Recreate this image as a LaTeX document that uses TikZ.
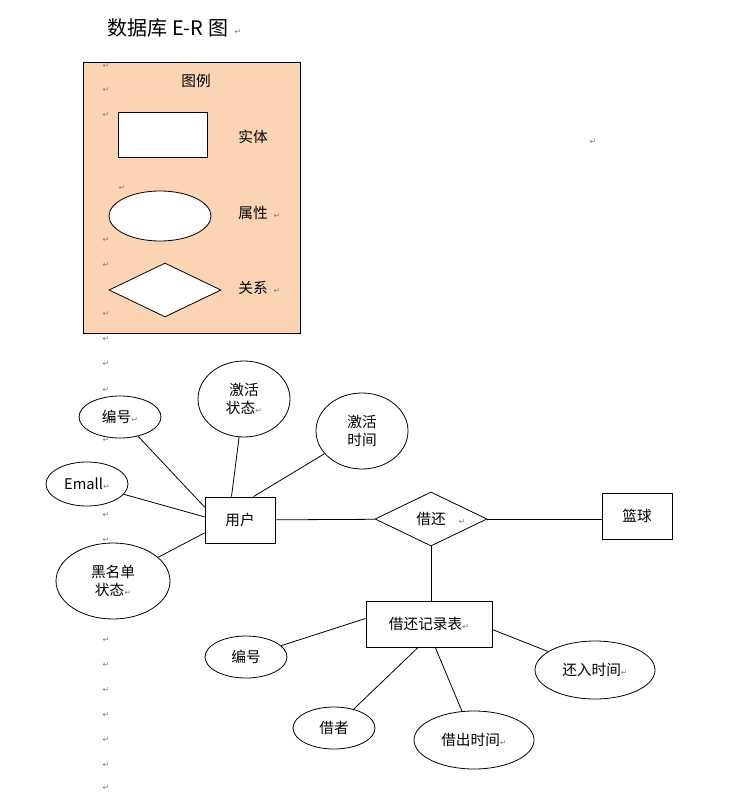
\documentclass[tikz,border=0pt]{standalone}
\usepackage{fontspec}
\setmainfont{Noto Sans CJK SC}
\newfontfamily\markfont{DejaVu Sans}
\usetikzlibrary{shapes.geometric}
\definecolor{peach}{HTML}{FBD4B4}
\definecolor{markgray}{HTML}{808080}
\begin{document}
\begin{tikzpicture}[x=0.75pt,y=-0.75pt,
  txt/.style={font=\fontsize{11}{14}\selectfont,align=center},
  ent/.style={draw,line width=0.6pt,fill=white,minimum width=70*0.75pt,minimum height=46*0.75pt,inner sep=0pt,txt},
  attr/.style={draw,ellipse,line width=0.6pt,fill=white,inner sep=0pt,txt},
  rel/.style={draw,diamond,line width=0.6pt,fill=white,inner sep=0pt,txt},
  mk/.style={font=\markfont\fontsize{6}{7}\selectfont,text=markgray,inner sep=0pt},
  ln/.style={line width=0.6pt}]
\useasboundingbox (0,0) rectangle (732,805);
% title
\node[font=\fontsize{15}{18}\selectfont,anchor=west] (title) at (103,28) {数据库 E-R 图};
\node[mk] (m0) at (238,32) {↵};
% legend
\node[draw,line width=0.6pt,fill=peach,minimum width=217*0.75pt,minimum height=271*0.75pt,inner sep=0pt] (legend) at (191.5,197.5) {};
\node[txt] (lgt) at (196,81) {图例};
\node[draw,line width=0.6pt,fill=white,minimum width=89*0.75pt,minimum height=45*0.75pt] (lrect) at (162.5,134.5) {};
\node[txt] (lr) at (253,137) {实体};
\node[draw,ellipse,line width=0.6pt,fill=white,minimum width=102*0.75pt,minimum height=50*0.75pt] (lell) at (160,216) {};
\node[txt] (le) at (253,213) {属性};
\node[mk] at (277,216) {↵};
\node[draw,diamond,aspect=2.07,line width=0.6pt,fill=white,minimum width=112*0.75pt,minimum height=54*0.75pt,inner sep=0pt] (ldia) at (165,290) {};
\node[txt] (ld) at (253,288) {关系};
\node[mk] at (277,291) {↵};
\node[mk] at (122,188) {↵};
\node[mk] at (593,142) {↵};
% left column of marks
\foreach \y in {66,90,115,240,265,314,339,364,390,440,515,540,640,665,690,715,740,765,788}
  \node[mk] at (106,\y) {↵};
% main entities
\node[ent] (user) at (240,520) {用户};
\node[rel,minimum width=112*0.75pt,minimum height=54*0.75pt,aspect=2.07] (jh) at (431,519) {借还};
\node[mk] at (462,522) {↵};
\node[ent] (ball) at (637,516) {篮球};
\node[ent,minimum width=126*0.75pt] (rec) at (429,624) {借还记录表\textcolor{markgray}{\markfont\fontsize{6}{7}\selectfont ↵}};
% attributes
\node[attr,minimum width=82*0.75pt,minimum height=42*0.75pt] (bh) at (120,417) {编号\textcolor{markgray}{\markfont\fontsize{6}{7}\selectfont ↵}};
\node[attr,minimum width=92*0.75pt,minimum height=76*0.75pt] (jhzt) at (244,399) {激活\\状态\textcolor{markgray}{\markfont\fontsize{6}{7}\selectfont ↵}};
\node[attr,minimum width=92*0.75pt,minimum height=76*0.75pt] (jhsj) at (362,431) {激活\\时间};
\node[attr,minimum width=82*0.75pt,minimum height=44*0.75pt] (em) at (87,484) {Emall\textcolor{markgray}{\markfont\fontsize{6}{7}\selectfont ↵}};
\node[attr,minimum width=114*0.75pt,minimum height=76*0.75pt] (hmd) at (113,581) {黑名单\\状态\textcolor{markgray}{\markfont\fontsize{6}{7}\selectfont ↵}};
\node[attr,minimum width=82*0.75pt,minimum height=42*0.75pt] (bh2) at (246,657) {编号};
\node[attr,minimum width=82*0.75pt,minimum height=42*0.75pt] (jz) at (334,728) {借者};
\node[attr,minimum width=120*0.75pt,minimum height=58*0.75pt] (jcsj) at (474,740) {借出时间\textcolor{markgray}{\markfont\fontsize{6}{7}\selectfont ↵}};
\node[attr,minimum width=120*0.75pt,minimum height=58*0.75pt] (hrsj) at (595,670) {还入时间\textcolor{markgray}{\markfont\fontsize{6}{7}\selectfont ↵}};
% connectors
\draw[ln] (bh) -- (user.160);
\draw[ln] (em) -- (user.175);
\draw[ln] (hmd) -- (user.-160);
\draw[ln] (jhzt) -- (user.110);
\draw[ln] (jhsj) -- (user.60);
\draw[ln] (user) -- (jh);
\draw[ln] (jh) -- (jh -| ball.west);
\draw[ln] (jh.south) -- (jh.south |- rec.north);
\draw[ln] (bh2) -- (rec.175);
\draw[ln] (jz) -- (rec.-115);
\draw[ln] (jcsj) -- (rec.-75);
\draw[ln] (hrsj) -- (rec.-5);
\end{tikzpicture}
\end{document}
